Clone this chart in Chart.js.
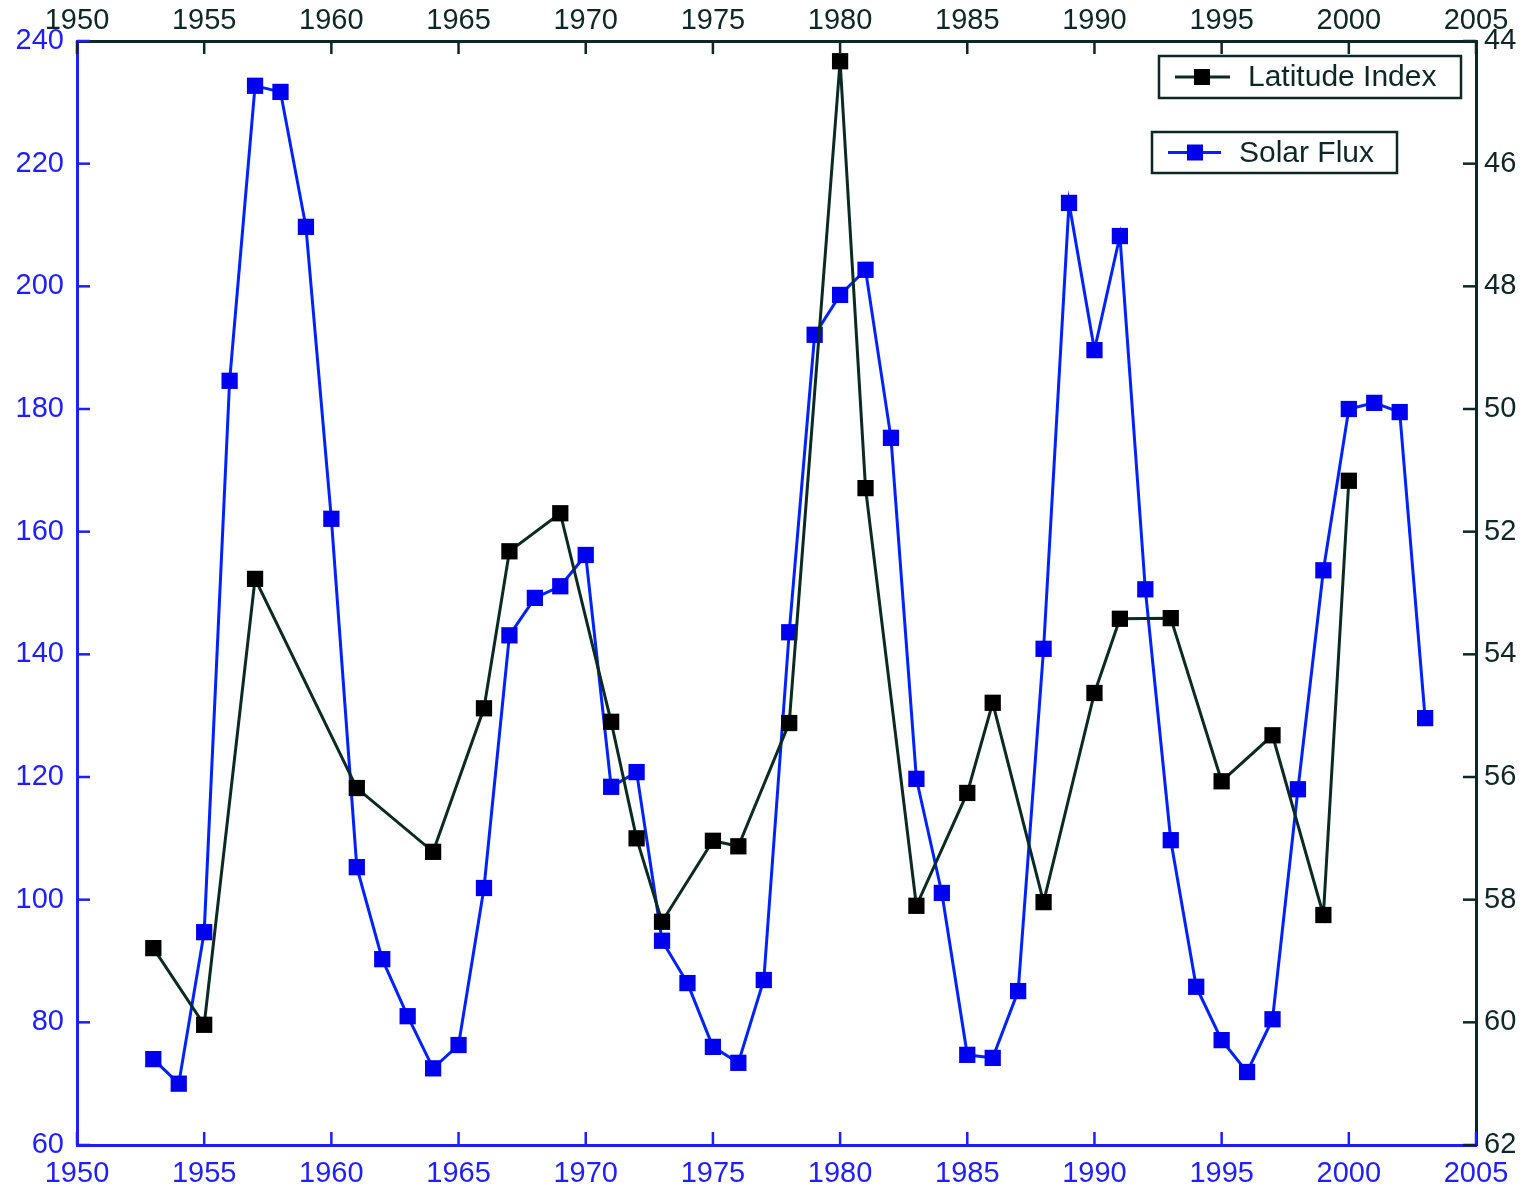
<!DOCTYPE html>
<html><head><meta charset="utf-8">
<script src="https://cdn.jsdelivr.net/npm/chart.js@4.4.0/dist/chart.umd.min.js"></script>
<style>html,body{margin:0;padding:0;background:#fff;overflow:hidden}canvas{display:block}</style>
</head><body>
<canvas id="c" width="1524" height="1192"></canvas>
<script>
// ---- data ----
const solarYears = [1953,1954,1955,1956,1957,1958,1959,1960,1961,1962,1963,1964,1965,1966,1967,1968,1969,1970,1971,1972,1973,1974,1975,1976,1977,1978,1979,1980,1981,1982,1983,1984,1985,1986,1987,1988,1989,1990,1991,1992,1993,1994,1995,1996,1997,1998,1999,2000,2001,2002,2003];
const solarFlux = [74,70,94.7,184.6,232.7,231.7,209.7,162.1,105.3,90.3,81,72.5,76.3,101.9,143.1,149.2,151.1,156.2,118.4,120.8,93.3,86.4,76,73.4,86.9,143.6,192.1,198.6,202.7,175.3,119.7,101.1,74.7,74.2,85.1,140.9,213.6,189.6,208.2,150.6,109.7,85.8,77.1,71.9,80.5,118,153.7,180,181,179.5,129.6];
const latYears = [1953,1955,1957,1961,1964,1966,1967,1969,1971,1972,1973,1975,1976,1978,1980,1981,1983,1985,1986,1988,1990,1991,1993,1995,1997,1999,2000];
const latitudeIndex = [58.79,60.04,52.77,56.18,57.22,54.88,52.32,51.70,55.10,57.0,58.36,57.04,57.13,55.12,44.33,51.29,58.1,56.26,54.79,58.04,54.63,53.42,53.41,56.07,55.32,58.25,51.17];
const xTicks = [1950,1955,1960,1965,1970,1975,1980,1985,1990,1995,2000,2005];
const leftTicks = [60,80,100,120,140,160,180,200,220,240];
const rightTicks = [44,46,48,50,52,54,56,58,60,62];
const seriesNames = ['Latitude Index','Solar Flux'];

// ---- styles ----
const DARK = '#0d2626';
const BLUE = '#1e1eff';
const FONT = {family: "'Liberation Sans', Arial, sans-serif", size: 29};
const GRID = {display:false, drawTicks:false, tickLength:0};

const solarPts = solarYears.map((y,i)=>({x:y, y:solarFlux[i]}));
const latPts = latYears.map((y,i)=>({x:y, y:latitudeIndex[i]}));

function fixedTicks(list){ return s => { s.ticks = list.map(v=>({value:v})); }; }

const innerTicks = {
  id:'innerTicks',
  afterDatasetsDraw(chart){
    const ctx = chart.ctx, a = chart.chartArea, L = 13;
    ctx.save(); ctx.lineWidth = 2.5;
    const sc = chart.scales;
    ctx.strokeStyle = BLUE;
    xTicks.forEach(v=>{ const p = sc.x.getPixelForValue(v); ctx.beginPath(); ctx.moveTo(p,a.bottom); ctx.lineTo(p,a.bottom-L); ctx.stroke(); });
    leftTicks.forEach(v=>{ const p = sc.y.getPixelForValue(v); ctx.beginPath(); ctx.moveTo(a.left,p); ctx.lineTo(a.left+L,p); ctx.stroke(); });
    ctx.strokeStyle = DARK;
    xTicks.forEach(v=>{ const p = sc.x2.getPixelForValue(v); ctx.beginPath(); ctx.moveTo(p,a.top); ctx.lineTo(p,a.top+L); ctx.stroke(); });
    rightTicks.forEach(v=>{ const p = sc.y2.getPixelForValue(v); ctx.beginPath(); ctx.moveTo(a.right,p); ctx.lineTo(a.right-L,p); ctx.stroke(); });
    ctx.restore();
  },
  afterDraw(chart){
    const ctx = chart.ctx;
    const boxes = [
      {x1:1159,y1:56,x2:1461,y2:98,l1:1175,l2:1230,m:1202,tx:1248,line:'#0a2a22',mark:'#000000',name:seriesNames[0]},
      {x1:1152,y1:132,x2:1397,y2:173,l1:1168,l2:1221,m:1195,tx:1239,line:'#0022ff',mark:'#0000f0',name:seriesNames[1]}
    ];
    ctx.save();
    boxes.forEach(b=>{
      const cy = (b.y1+b.y2)/2;
      ctx.fillStyle = '#fff'; ctx.fillRect(b.x1,b.y1,b.x2-b.x1,b.y2-b.y1);
      ctx.strokeStyle = DARK; ctx.lineWidth = 2.5; ctx.strokeRect(b.x1,b.y1,b.x2-b.x1,b.y2-b.y1);
      ctx.strokeStyle = b.line; ctx.lineWidth = 3;
      ctx.beginPath(); ctx.moveTo(b.l1,cy); ctx.lineTo(b.l2,cy); ctx.stroke();
      ctx.fillStyle = b.mark; ctx.fillRect(b.m-8,cy-8,16,16);
      ctx.fillStyle = DARK; ctx.font = "30px 'Liberation Sans', Arial, sans-serif";
      ctx.textBaseline = 'middle'; ctx.textAlign = 'left';
      ctx.fillText(b.name, b.tx, cy+1);
    });
    ctx.restore();
  }
};

new Chart(document.getElementById('c'), {
  type:'line',
  data:{ datasets:[
    {label:seriesNames[0], data:latPts, xAxisID:'x', yAxisID:'y2', borderColor:'#0a2a22', borderWidth:3,
     pointStyle:'rect', pointRadius:11.5, pointBackgroundColor:'#000', pointBorderColor:'#000', pointBorderWidth:0, tension:0, clip:false},
    {label:seriesNames[1], data:solarPts, xAxisID:'x', yAxisID:'y', borderColor:'#0022ff', borderWidth:3,
     pointStyle:'rect', pointRadius:11.5, pointBackgroundColor:'#0000f0', pointBorderColor:'#0000f0', pointBorderWidth:0, tension:0, clip:false}
  ]},
  options:{
    responsive:false, animation:false, devicePixelRatio:1,
    layout:{padding:0},
    plugins:{legend:{display:false}, tooltip:{enabled:false}},
    scales:{
      x:{type:'linear', position:'bottom', min:1950, max:2005, afterBuildTicks:fixedTicks(xTicks),
         grid:GRID, border:{display:true, color:BLUE, width:3},
         ticks:{color:BLUE, font:FONT, padding:12, maxRotation:0, autoSkip:false, callback:v=>String(v)},
         afterFit:s=>{s.height=47;}},
      x2:{type:'linear', position:'top', min:1950, max:2005, afterBuildTicks:fixedTicks(xTicks),
         grid:GRID, border:{display:true, color:DARK, width:3},
         ticks:{color:DARK, font:FONT, padding:3, maxRotation:0, autoSkip:false, callback:v=>String(v)},
         afterFit:s=>{s.height=41;}},
      y:{type:'linear', position:'left', min:60, max:240, afterBuildTicks:fixedTicks(leftTicks),
         grid:GRID, border:{display:true, color:BLUE, width:3},
         ticks:{color:BLUE, font:FONT, padding:13, autoSkip:false},
         afterFit:s=>{s.width=77;}},
      y2:{type:'linear', position:'right', min:44, max:62, reverse:true, afterBuildTicks:fixedTicks(rightTicks),
         grid:GRID, border:{display:true, color:DARK, width:3},
         ticks:{color:DARK, font:FONT, padding:8, autoSkip:false},
         afterFit:s=>{s.width=48;}}
    }
  },
  plugins:[innerTicks]
});
</script>
</body></html>
